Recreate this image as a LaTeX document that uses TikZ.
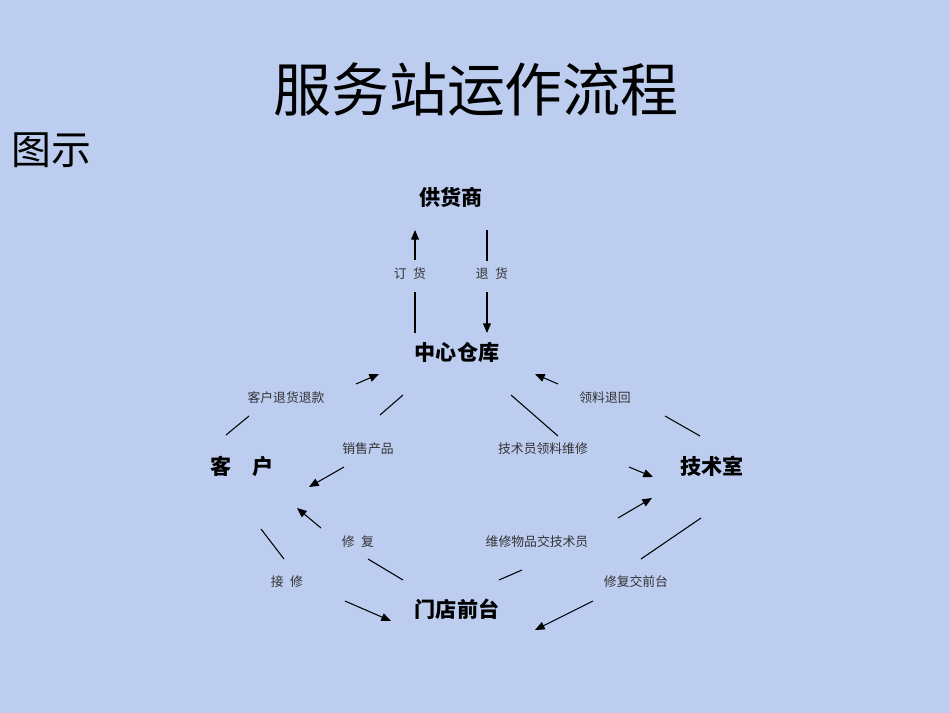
\documentclass[tikz,border=0pt]{standalone}
\usepackage{fontspec}
\setmainfont{Noto Sans CJK SC}
\usetikzlibrary{arrows.meta}
\definecolor{PaperBlue}{RGB}{188,205,240}
\tikzset{
  station/.style={font=\fontsize{12}{14}\selectfont\bfseries, inner sep=1pt},
  flowlbl/.style={font=\fontsize{7.3}{9}\selectfont, text=black!80, inner sep=1pt},
  seg/.style={line width=0.6pt, black},
  arr/.style={seg, -{Triangle[length=5.5pt, width=4.5pt]}},
}

\begin{document}
\begin{tikzpicture}[x=0.02cm, y=-0.02cm]
  \fill[PaperBlue] (0,0) rectangle (950,713);
  \useasboundingbox (0,0) rectangle (950,713);
  % title
  \node[font=\fontsize{33}{37}\selectfont] (title) at (476,90) {服务站运作流程};
  \node[font=\fontsize{22.7}{26}\selectfont, anchor=west] (pic) at (5,150) {图示};
  % stations
  \node[station] (supplier) at (451,197) {供货商};
  \node[station] (depot) at (457,352) {中心仓库};
  \node[station] (client) at (242,466) {客\quad 户};
  \node[station] (techroom) at (712,466) {技术室};
  \node[station] (front) at (457,609) {门店前台};
  % labels
  \node[flowlbl] (order) at (410,274) {订\enspace 货};
  \node[flowlbl] (giveback) at (492,274) {退\enspace 货};
  \node[flowlbl] (refund) at (286,398) {客户退货退款};
  \node[flowlbl] (sell) at (368,449) {销售产品};
  \node[flowlbl] (partsback) at (605,398) {领料退回};
  \node[flowlbl] (partsout) at (543,449) {技术员领料维修};
  \node[flowlbl] (fixed) at (358,542) {修\enspace 复};
  \node[flowlbl] (tofix) at (537,542) {维修物品交技术员};
  \node[flowlbl] (accept) at (287,582) {接\enspace 修};
  \node[flowlbl] (tofront) at (636,582) {修复交前台};
  % connector ends
  \foreach \n/\x/\y in {ora/415/333, orb/415/292, orc/415/260, ord/415/230,
      gba/487/230, gbb/487/261, gbc/487/292, gbd/487/333,
      rfa/226/435, rfb/249/416, rfc/356/384, rfd/379/374,
      sla/403/395, slb/380/415, slc/344/467, sld/309/487,
      pba/700/436, pbb/665/416, pbc/558/384, pbd/535/374,
      poa/511/395, pob/558/436, poc/629/467, pod/653/477,
      fxa/403/580, fxb/368/559, fxc/321/528, fxd/297/508,
      aca/261/529, acb/284/559, acc/345/601, acd/391/621,
      tfa/499/580, tfb/522/570, tfc/618/518, tfd/652/498,
      tra/701/518, trb/641/559, trc/593/601, trd/535/630}
    \coordinate (\n) at (\x,\y);
  \foreach \c in {or,gb,rf,sl,pb,po,fx,ac,tf,tr} {
    \draw[seg] (\c a) -- (\c b);
    \draw[arr] (\c c) -- (\c d);
  }
\end{tikzpicture}
\end{document}
